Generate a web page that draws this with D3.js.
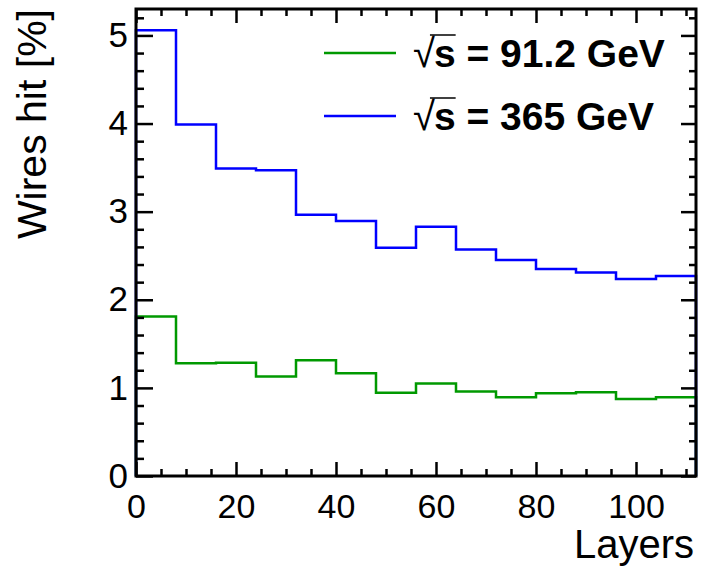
<!DOCTYPE html>
<html>
<head>
<meta charset="utf-8">
<script src="https://cdn.jsdelivr.net/npm/d3@7"></script>
<style>
  html, body { margin: 0; padding: 0; background: #fff; }
  svg { display: block; font-family: "Liberation Sans", Arial, Helvetica, sans-serif; }
</style>
</head>
<body>
<svg id="chart" width="702" height="568"></svg>
<script>
// ---- data ----
const binEdges = [0, 8, 16, 24, 32, 40, 48, 56, 64, 72, 80, 88, 96, 104, 112];
const hits912 = [1.81, 1.28, 1.285, 1.13, 1.315, 1.165, 0.945, 1.05, 0.96, 0.895, 0.94, 0.95, 0.875, 0.895];
const hits365 = [5.06, 3.99, 3.49, 3.47, 2.965, 2.895, 2.59, 2.83, 2.57, 2.45, 2.35, 2.31, 2.235, 2.27];
const seriesNames = ["= 91.2 GeV", "= 365 GeV"];
const seriesColors = ["#009900", "#0000ff"];
const xMajorTicks = [0, 20, 40, 60, 80, 100];
const yMajorTicks = [0, 1, 2, 3, 4, 5];
const xTitle = "Layers";
const yTitle = "Wires hit [%]";

// ---- layout ----
const svg = d3.select("#chart");
const L = 136, R = 696, T = 9, B = 476;
const x = d3.scaleLinear().domain([0, 112]).range([L, R]);
const y = d3.scaleLinear().domain([0, 5.3]).range([B, T]);

// histograms
function stepPoints(vals) {
  const pts = [[binEdges[0], 0]];
  vals.forEach((v, i) => { pts.push([binEdges[i], v]); pts.push([binEdges[i + 1], v]); });
  pts.push([binEdges[binEdges.length - 1], 0]);
  return pts;
}
const line = d3.line().x(d => x(d[0])).y(d => y(d[1]));
[hits912, hits365].forEach((vals, i) => {
  svg.append("path")
    .attr("d", line(stepPoints(vals)))
    .attr("fill", "none")
    .attr("stroke", seriesColors[i])
    .attr("stroke-width", 2.5);
});

// minor tick values
const xMinor = d3.range(0, 112.001, 5).filter(v => v % 20 !== 0);
const yMinor = d3.range(0, 26.5).map(k => +(k * 0.2).toFixed(2)).filter(v => Math.abs(v - Math.round(v)) > 1e-6 && v <= 5.3);

function styleAxis(g) {
  g.select(".domain").remove();
  g.selectAll(".tick line").attr("stroke", "#000").attr("stroke-width", 2.5);
}

// bottom axis
svg.append("g").attr("transform", `translate(0,${B})`)
  .call(d3.axisBottom(x).tickValues(xMajorTicks).tickSize(-14).tickPadding(18).tickFormat(d3.format("d")))
  .call(styleAxis)
  .call(g => g.selectAll("text").attr("font-size", 34).attr("fill", "#000").style("font-family", "Liberation Sans, Arial, sans-serif"));
svg.append("g").attr("transform", `translate(0,${B})`)
  .call(d3.axisBottom(x).tickValues(xMinor).tickSize(-7).tickFormat(""))
  .call(styleAxis);
// top axis
svg.append("g").attr("transform", `translate(0,${T})`)
  .call(d3.axisTop(x).tickValues(xMajorTicks).tickSize(-14).tickFormat(""))
  .call(styleAxis);
svg.append("g").attr("transform", `translate(0,${T})`)
  .call(d3.axisTop(x).tickValues(xMinor).tickSize(-7).tickFormat(""))
  .call(styleAxis);
// left axis
svg.append("g").attr("transform", `translate(${L},0)`)
  .call(d3.axisLeft(y).tickValues(yMajorTicks).tickSize(-17).tickPadding(8).tickFormat(d3.format("d")))
  .call(styleAxis)
  .call(g => g.selectAll("text").attr("font-size", 35).attr("fill", "#000").style("font-family", "Liberation Sans, Arial, sans-serif"));
svg.append("g").attr("transform", `translate(${L},0)`)
  .call(d3.axisLeft(y).tickValues(yMinor).tickSize(-8).tickFormat(""))
  .call(styleAxis);
// right axis
svg.append("g").attr("transform", `translate(${R},0)`)
  .call(d3.axisRight(y).tickValues(yMajorTicks).tickSize(-15).tickFormat(""))
  .call(styleAxis);
svg.append("g").attr("transform", `translate(${R},0)`)
  .call(d3.axisRight(y).tickValues(yMinor).tickSize(-7).tickFormat(""))
  .call(styleAxis);

// frame
svg.append("rect")
  .attr("x", L).attr("y", T).attr("width", R - L).attr("height", B - T)
  .attr("fill", "none").attr("stroke", "#000").attr("stroke-width", 3);

// axis titles
svg.append("text")
  .attr("x", 694).attr("y", 558)
  .attr("text-anchor", "end").attr("font-size", 40).attr("fill", "#000")
  .text(xTitle);
svg.append("text")
  .attr("transform", "translate(46,9) rotate(-90)")
  .attr("text-anchor", "end").attr("font-size", 41).attr("fill", "#000")
  .text(yTitle);

// legend
const legRows = [53, 116];
seriesNames.forEach((name, i) => {
  const cy = legRows[i];
  svg.append("line")
    .attr("x1", 324).attr("x2", 396).attr("y1", cy).attr("y2", cy)
    .attr("stroke", seriesColors[i]).attr("stroke-width", 2.5);
  const t = svg.append("text")
    .attr("x", 413).attr("y", cy + 14)
    .attr("font-size", 39).attr("fill", "#000");
  t.append("tspan").attr("font-weight", "normal").attr("font-size", 40).text("\u221A");
  t.append("tspan").attr("font-weight", "bold").attr("dx", -1).text("s");
  t.append("tspan").attr("font-weight", "bold").text(" " + name);
  // overline over "s"
  const n = t.node();
  const startS = n.getStartPositionOfChar(1).x;
  const endS = n.getEndPositionOfChar(1).x;
  svg.append("line")
    .attr("x1", startS - 4).attr("x2", endS)
    .attr("y1", cy - 18).attr("y2", cy - 18)
    .attr("stroke", "#000").attr("stroke-width", 1.5);
});
</script>
</body>
</html>
